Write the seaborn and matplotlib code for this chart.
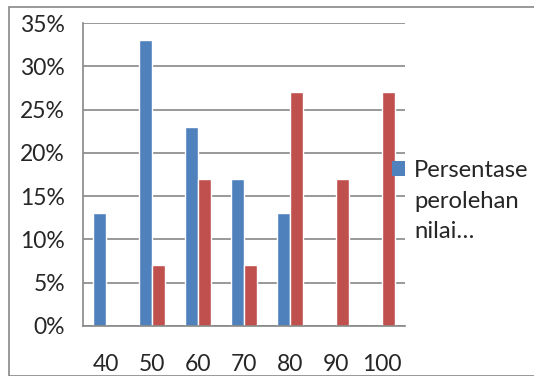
import pandas as pd
import numpy as np
import matplotlib
matplotlib.use("Agg")
import matplotlib.pyplot as plt
import seaborn as sns
from matplotlib.patches import Rectangle, Patch

# data
nilai = ["40", "50", "60", "70", "80", "90", "100"]
persen_a = [0.13, 0.33, 0.23, 0.17, 0.13, 0.0, 0.0]
persen_b = [0.0, 0.07, 0.17, 0.07, 0.27, 0.17, 0.27]
series_names = ["Persentase perolehan nilai siswa", "Series 2"]
legend_lines = ["Persentase", "perolehan", "nilai…"]
yticks = [0, 0.05, 0.10, 0.15, 0.20, 0.25, 0.30, 0.35]

df = pd.DataFrame({
    "nilai": nilai * 2,
    "persen": persen_a + persen_b,
    "seri": [series_names[0]] * len(nilai) + [series_names[1]] * len(nilai),
})

sns.set_style("white")
plt.rcParams["font.family"] = ["Lato", "DejaVu Sans"]

grid_col = "#878787"
fs = 16.5
fig = plt.figure(figsize=(5.34, 3.76), dpi=100)
ax = fig.add_axes([83 / 534, 1 - 326 / 376, (405 - 83) / 534, (326 - 23) / 376])

sns.barplot(data=df, x="nilai", y="persen", hue="seri", order=nilai,
            palette=["#4F81BD", "#C0504D"], width=0.565, saturation=1,
            ax=ax, legend=False)

ax.set_xlim(-0.5, len(nilai) - 0.5)
ax.set_ylim(0, 0.35)
ax.set_yticks(yticks)
ax.set_yticklabels([f"{int(round(v * 100))}%" for v in yticks], fontsize=fs)
ax.yaxis.grid(True, color=grid_col, linewidth=1.2)
ax.set_axisbelow(True)
ax.set_xlabel("")
ax.set_ylabel("")

# category ticks sit between groups, labels at centres
ax.set_xticks(np.arange(len(nilai)))
ax.set_xticklabels(nilai, fontsize=fs)
ax.set_xticks(np.arange(len(nilai) + 1) - 0.5, minor=True)
ax.tick_params(axis="x", which="major", length=0, pad=20)
ax.tick_params(axis="x", which="minor", length=6, color=grid_col, width=1.2, direction="out")
ax.tick_params(axis="y", length=8, color=grid_col, width=1.2, direction="out", pad=5)

for s in ["top", "right"]:
    ax.spines[s].set_visible(False)
for s in ["left", "bottom"]:
    ax.spines[s].set_color(grid_col)
    ax.spines[s].set_linewidth(1.2)

# legend: one blue entry, its label wrapped over three lines
handles = [Patch(facecolor="#4F81BD", edgecolor="none")] + \
          [Patch(facecolor="none", edgecolor="none")] * 2
leg = fig.legend(handles, legend_lines, loc="upper left",
                 bbox_to_anchor=(392 / 534, 1 - 160 / 376), frameon=False,
                 fontsize=17.2, handlelength=0.55, handleheight=0.55,
                 handletextpad=0.38, labelspacing=0.4,
                 borderaxespad=0, borderpad=0)

fig.patches.append(Rectangle((9 / 534, 0), 1.2, 1 - 7 / 376, transform=fig.transFigure,
                             fill=False, edgecolor=grid_col, linewidth=1.2))

fig.savefig("out.png", dpi=100)
plt.close()
